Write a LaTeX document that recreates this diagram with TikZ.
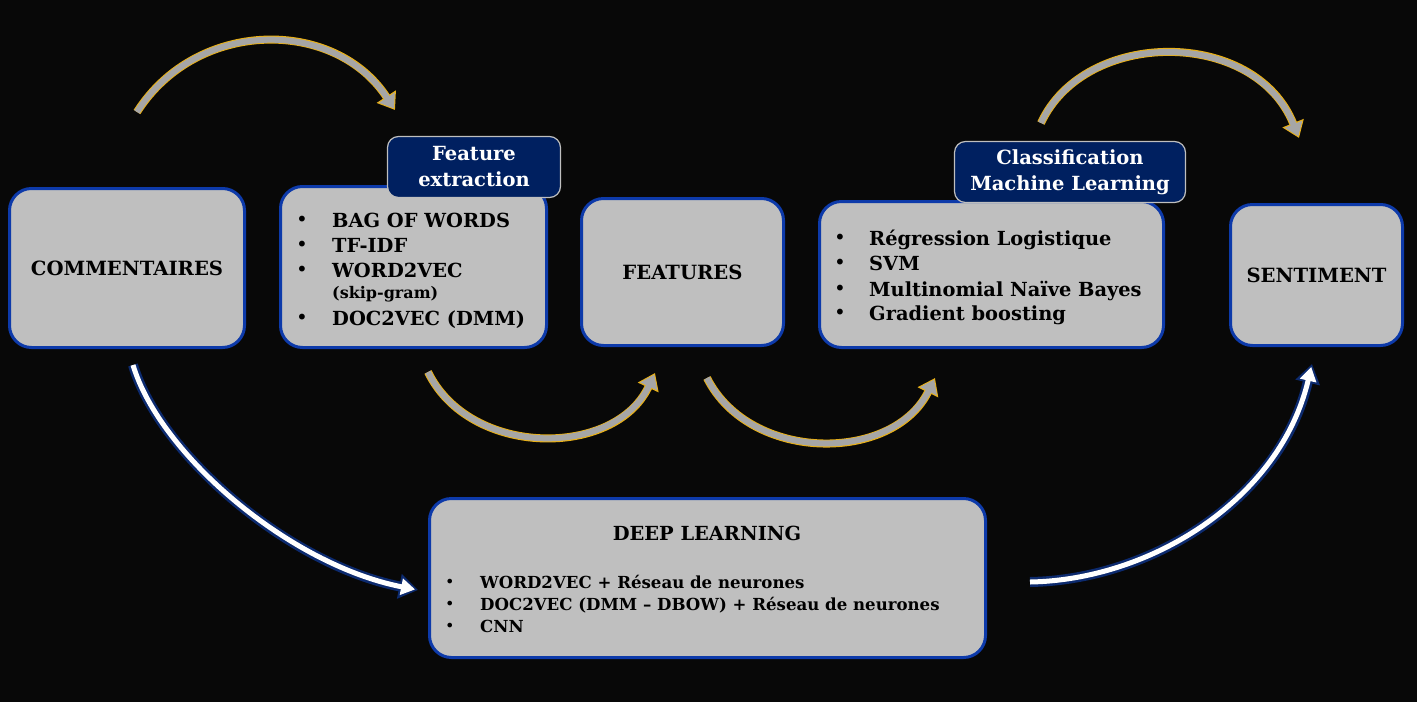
\documentclass[tikz,border=0pt]{standalone}
\usepackage{fontspec}
\setmainfont{DejaVu Serif}
\usetikzlibrary{arrows.meta,positioning}

\definecolor{bgdark}{HTML}{080808}
\definecolor{panelgray}{HTML}{BFBFBF}
\definecolor{panelblue}{HTML}{0D3AAA}
\definecolor{tagnavy}{HTML}{002060}
\definecolor{tagedge}{HTML}{BFBFBF}
\definecolor{arrowgold}{HTML}{E8B018}
\definecolor{arrowgray}{HTML}{A6A6A6}
\definecolor{arrownavy}{HTML}{0C2A6E}

\begin{document}
\begin{tikzpicture}[
    x=1pt, y=-1pt,
    panel/.style={
        draw = panelblue,
        line width = 3pt,
        fill = panelgray,
        rounded corners = 22pt,
        inner sep = 0pt,
        font = \bfseries\fontsize{19.6}{24}\selectfont
    },
    tag/.style={
        draw = tagedge,
        line width = 1.2pt,
        fill = tagnavy,
        text = white,
        rounded corners = 11pt,
        inner sep = 0pt,
        align = center,
        font = \bfseries\fontsize{19.5}{26}\selectfont
    },
    item/.style={
        anchor = base west,
        inner sep = 0pt,
        font = \bfseries\fontsize{19.4}{24}\selectfont
    },
    dot/.style={
        anchor = base west,
        inner sep = 0pt,
        font = \fontsize{20}{20}\selectfont
    },
    goldrim/.style={draw=arrowgold, line width=8pt, -{Triangle[length=16pt,width=22pt]}},
    goldcore/.style={draw=arrowgray, line width=6pt, -{Triangle[length=13pt,width=18pt]}, shorten >=1.8pt},
    navyrim/.style={draw=arrownavy, line width=10pt, -{Triangle[length=19pt,width=24pt]}},
    whitecore/.style={draw=white, line width=5pt, -{Triangle[length=14pt,width=16pt]}, shorten >=3pt}
]

% background
\fill[bgdark] (0,0) rectangle (1417,702);
\useasboundingbox (0,0) rectangle (1417,702);

% arrow end points
\coordinate (ga1s) at (137,112);
\coordinate (ga1e) at (395,110);
\coordinate (ga2s) at (428,372);
\coordinate (ga2e) at (655,373);
\coordinate (ga3s) at (707,378);
\coordinate (ga3e) at (935,378);
\coordinate (ga4s) at (1041,123);
\coordinate (ga4e) at (1299,138);
\coordinate (wa1s) at (133,365);
\coordinate (wa1e) at (418,590);
\coordinate (wa2s) at (1030,582);
\coordinate (wa2e) at (1312,364);

% gold arrows
\draw[goldrim] (ga1s) .. controls (197,18) and (335,18) .. (ga1e);
\draw[goldcore] (ga1s) .. controls (197,18) and (335,18) .. (ga1e);
\draw[goldrim] (ga2s) .. controls (470,458) and (615,458) .. (ga2e);
\draw[goldcore] (ga2s) .. controls (470,458) and (615,458) .. (ga2e);
\draw[goldrim] (ga3s) .. controls (750,463) and (893,463) .. (ga3e);
\draw[goldcore] (ga3s) .. controls (750,463) and (893,463) .. (ga3e);
\draw[goldrim] (ga4s) .. controls (1085,28) and (1255,28) .. (ga4e);
\draw[goldcore] (ga4s) .. controls (1085,28) and (1255,28) .. (ga4e);

% white arrows
\draw[navyrim] (wa1s) .. controls (160,455) and (290,565) .. (wa1e);
\draw[whitecore] (wa1s) .. controls (160,455) and (290,565) .. (wa1e);
\draw[navyrim] (wa2s) .. controls (1150,580) and (1280,500) .. (wa2e);
\draw[whitecore] (wa2s) .. controls (1150,580) and (1280,500) .. (wa2e);

% panels
\node[panel, minimum width=235pt, minimum height=159pt] (com) at (127,268) {COMMENTAIRES};
\node[panel, minimum width=266pt, minimum height=161pt] (fex) at (413.5,267) {};
\node[panel, minimum width=202pt, minimum height=147pt] (fea) at (682.5,272) {FEATURES};
\node[panel, minimum width=344pt, minimum height=146pt] (cla) at (991.5,274.5) {};
\node[panel, minimum width=172pt, minimum height=141pt] (sen) at (1316.5,275) {SENTIMENT};
\node[panel, minimum width=556pt, minimum height=159pt] (dl) at (707.5,578) {};

% tags
\node[tag, minimum width=173pt, minimum height=61pt] (fextag) at (474,167) {Feature\\extraction};
\node[tag, minimum width=231pt, minimum height=61pt] (clatag) at (1070,172) {Classification\\Machine Learning};

% feature extraction list
\foreach \y/\txt [count=\i] in {227/BAG OF WORDS, 252/TF-IDF, 277/WORD2VEC, 325/DOC2VEC (DMM)}
{
    \node[dot] (fexdot\i) at (296,\y-1) {•};
    \node[item] (fexitem\i) at (332,\y) {\txt};
}
\node[item, font=\bfseries\fontsize{16}{18}\selectfont] (skipgram) at (332,298) {(skip-gram)};

% classification list
\foreach \y/\txt [count=\i] in {245/Régression Logistique, 270/SVM, 296/Multinomial Naïve Bayes, 320/Gradient boosting}
{
    \node[dot] (cladot\i) at (834,\y-1) {•};
    \node[item] (claitem\i) at (869,\y) {\txt};
}

% deep learning
\node[item, anchor=base] (dltitle) at (707,540) {DEEP LEARNING};
\foreach \y/\txt [count=\i] in {588/WORD2VEC + Réseau de neurones, 610/DOC2VEC (DMM – DBOW) + Réseau de neurones, 632/CNN}
{
    \node[dot, font=\fontsize{16}{16}\selectfont] (dldot\i) at (445,\y-1) {•};
    \node[item, font=\bfseries\fontsize{16.6}{20}\selectfont] (dlitem\i) at (480,\y) {\txt};
}

\end{tikzpicture}
\end{document}
